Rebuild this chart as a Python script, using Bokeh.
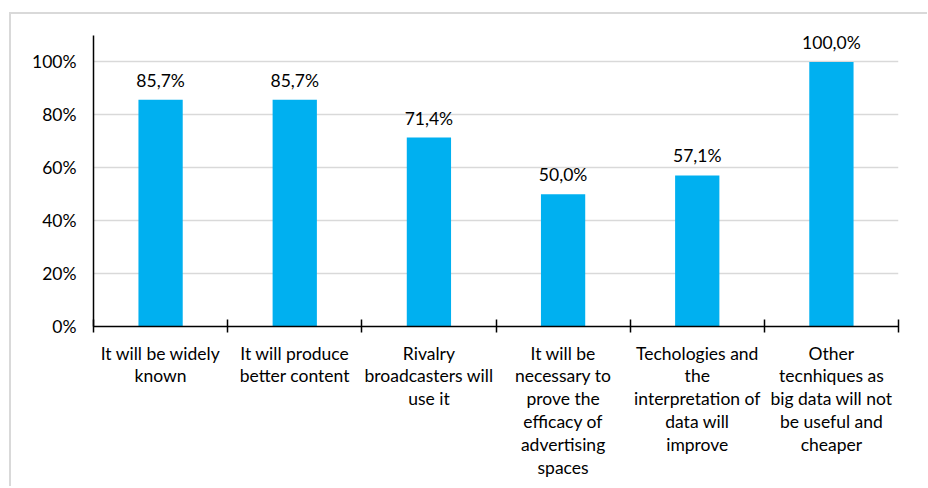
from bokeh.plotting import figure
from bokeh.models import ColumnDataSource, FixedTicker, NumeralTickFormatter, Range1d
from bokeh.core.properties import value
from bokeh.embed import file_html
from bokeh.resources import INLINE

categories = [
    "It will be widely\nknown",
    "It will produce\nbetter content",
    "Rivalry\nbroadcasters will\nuse it",
    "It will be\nnecessary to\nprove the\nefficacy of\nadvertising\nspaces",
    "Techologies and\nthe\ninterpretation of\ndata will\nimprove",
    "Other\ntecnhiques as\nbig data will not\nbe useful and\ncheaper",
]
percent_values = [85.7, 85.7, 71.4, 50.0, 57.1, 100.0]
y_ticks = [0, 0.2, 0.4, 0.6, 0.8, 1.0]

FONT = "Lato"
FS = "17.5px"

xs = [i + 0.5 for i in range(len(categories))]
tops = [v / 100 for v in percent_values]
labels = [("%.1f" % v).replace(".", ",") + "%" for v in percent_values]

src = ColumnDataSource(dict(x=xs, top=tops, label=labels))

p = figure(
    frame_width=805, frame_height=291,
    x_range=Range1d(0, len(categories)), y_range=Range1d(0, 1.1),
    output_backend="svg", toolbar_location=None, tools="",
    min_border_left=82, min_border_right=29, min_border_top=21, min_border_bottom=160,
)
p.styles = {
    "margin-left": "9px", "margin-top": "12px",
    "border-left": "2px solid #d9d9d9", "border-top": "2px solid #d9d9d9",
}
p.outline_line_color = None
p.background_fill_color = "white"
p.border_fill_color = "white"

p.vbar(x="x", top="top", width=0.33, bottom=0, source=src,
       fill_color="#00b0f0", line_color=None)
p.text(x="x", y="top", text="label", source=src, text_align="center",
       text_baseline="bottom", y_offset=-9, text_font=value(FONT),
       text_font_size=FS, text_color="#000000")

# grid
p.xgrid.grid_line_color = None
p.ygrid.grid_line_color = "#d9d9d9"
p.ygrid.grid_line_width = 1.5

# y axis
p.yaxis.ticker = FixedTicker(ticks=y_ticks)
p.yaxis.formatter = NumeralTickFormatter(format="0%")
p.yaxis.major_tick_line_color = None
p.yaxis.minor_tick_line_color = None
p.yaxis.major_tick_out = 0
p.yaxis.major_tick_in = 0
p.yaxis.axis_line_color = "black"
p.yaxis.axis_line_width = 1.5
p.yaxis.major_label_standoff = 17
p.yaxis.major_label_text_font = FONT
p.yaxis.major_label_text_font_size = FS
p.yaxis.major_label_text_color = "#000000"

# x axis
p.xaxis.ticker = FixedTicker(ticks=xs, minor_ticks=list(range(len(categories) + 1)))
p.xaxis.major_label_overrides = {x: c for x, c in zip(xs, categories)}
p.xaxis.major_tick_line_color = None
p.xaxis.major_tick_out = 0
p.xaxis.major_tick_in = 0
p.xaxis.minor_tick_line_color = "black"
p.xaxis.minor_tick_line_width = 1.5
p.xaxis.minor_tick_in = 7
p.xaxis.minor_tick_out = 6
p.xaxis.axis_line_color = "black"
p.xaxis.axis_line_width = 1.5
p.xaxis.major_label_standoff = 10
p.xaxis.major_label_text_font = FONT
p.xaxis.major_label_text_font_size = FS
p.xaxis.major_label_text_color = "#000000"
p.xaxis.major_label_text_line_height = 1.09

open("out.html", "w").write(file_html(p, INLINE))
